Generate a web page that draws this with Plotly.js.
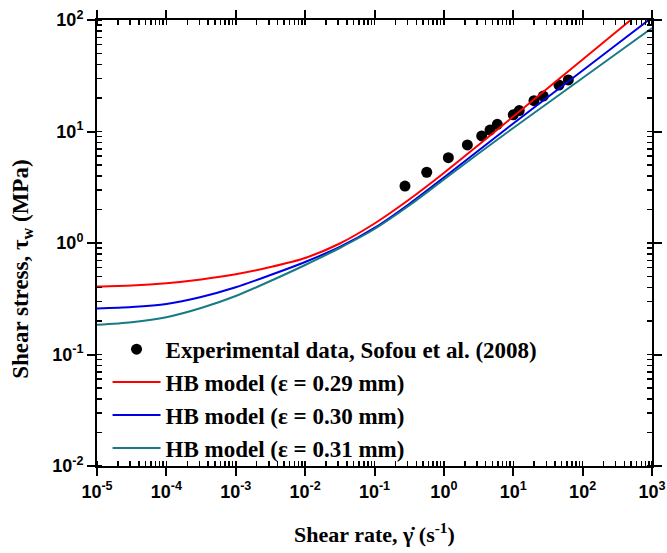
<!DOCTYPE html>
<html>
<head>
<meta charset="utf-8">
<script src="https://cdn.plot.ly/plotly-3.0.1.min.js"></script>
<style>html,body{margin:0;padding:0;background:#fff;}#chart{width:667px;height:553px;}</style>
</head>
<body>
<div id="chart"></div>
<script>
// Experimental data (Sofou et al., 2008)
const expShearRate = [0.275, 0.566, 1.16, 2.18, 3.51, 4.62, 5.89, 10.0, 12.2, 19.9, 27.1, 45.6, 62.2];
const expShearStress = [3.24, 4.31, 5.82, 7.57, 9.12, 10.3, 11.6, 14.1, 15.4, 18.9, 20.8, 26.1, 29.0];

// HB model curves (half-decade steps)
const modelShearRate = [1e-5, 3.16e-5, 1e-4, 3.16e-4, 1e-3, 3.16e-3, 1e-2, 3.16e-2, 0.1, 0.316, 1, 3.16, 10, 31.6, 100, 316, 1000];
const hb029 = [0.407, 0.416, 0.436, 0.471, 0.524, 0.609, 0.734, 0.990, 1.496, 2.455, 4.245, 7.565, 13.63, 24.55, 44.23, 79.67, 143.6];
const hb030 = [0.259, 0.267, 0.284, 0.328, 0.401, 0.516, 0.676, 0.921, 1.365, 2.239, 3.868, 6.755, 11.80, 20.39, 35.25, 60.93, 105.3];
const hb031 = [0.185, 0.195, 0.216, 0.261, 0.335, 0.456, 0.635, 0.902, 1.335, 2.169, 3.711, 6.349, 10.75, 18.02, 30.19, 50.58, 84.79];

const xTickVals = [1e-5, 1e-4, 1e-3, 1e-2, 1e-1, 1, 10, 100, 1000];
const xTickText = ['10<sup>-5</sup>', '10<sup>-4</sup>', '10<sup>-3</sup>', '10<sup>-2</sup>', '10<sup>-1</sup>', '10<sup>0</sup>', '10<sup>1</sup>', '10<sup>2</sup>', '10<sup>3</sup>'];
const yTickVals = [1e-2, 1e-1, 1, 10, 100];
const yTickText = ['10<sup>-2</sup>', '10<sup>-1</sup>', '10<sup>0</sup>', '10<sup>1</sup>', '10<sup>2</sup>'];

const serif = 'Liberation Serif, Times New Roman, serif';
const sans = 'Liberation Sans, Arial, sans-serif';

const traces = [
  {x: expShearRate, y: expShearStress, mode: 'markers', type: 'scatter',
   name: 'Experimental data, Sofou et al. (2008)',
   marker: {color: 'black', size: 11, symbol: 'circle'}},
  {x: modelShearRate, y: hb029, mode: 'lines', type: 'scatter', name: 'HB model (ε = 0.29 mm)',
   line: {color: '#ff0000', width: 2, shape: 'spline', smoothing: 0.8}},
  {x: modelShearRate, y: hb030, mode: 'lines', type: 'scatter', name: 'HB model (ε = 0.30 mm)',
   line: {color: '#0000e6', width: 2, shape: 'spline', smoothing: 0.8}},
  {x: modelShearRate, y: hb031, mode: 'lines', type: 'scatter', name: 'HB model (ε = 0.31 mm)',
   line: {color: '#177a85', width: 2, shape: 'spline', smoothing: 0.8}}
];

const axisCommon = {
  type: 'log', showgrid: false, zeroline: false,
  showline: true, linecolor: 'black', linewidth: 2, mirror: 'allticks',
  ticks: 'outside', ticklen: 8, tickwidth: 2, tickcolor: 'black',
  minor: {ticks: 'inside', ticklen: 5, tickwidth: 1.5, tickcolor: 'black', dtick: 'D1', showgrid: false},
  tickfont: {family: sans, size: 18, color: 'black', weight: 'bold'}
};

const layout = {
  width: 667, height: 553,
  margin: {l: 97, r: 15, t: 20, b: 87},
  paper_bgcolor: 'white', plot_bgcolor: 'white',
  showlegend: true,
  legend: {x: 0.019, y: 0.31, xanchor: 'left', yanchor: 'top', bgcolor: 'rgba(0,0,0,0)',
           font: {family: serif, size: 23, color: 'black', weight: 'bold'}, itemwidth: 48, tracegroupgap: 0},
  xaxis: Object.assign({}, axisCommon, {
    range: [-5, 3], tickvals: xTickVals, ticktext: xTickText,
    title: {text: 'Shear rate, γ̇ (s<sup>-1</sup>)', standoff: 26,
            font: {family: serif, size: 22, color: 'black', weight: 'bold'}}
  }),
  yaxis: Object.assign({}, axisCommon, {
    range: [-2, 2], tickvals: yTickVals, ticktext: yTickText
  }),
  annotations: [
    {text: 'Shear stress, τ<sub>w</sub> (MPa)', xref: 'paper', yref: 'paper',
     x: -0.135, y: 0.44, xanchor: 'center', yanchor: 'middle', textangle: -90, showarrow: false,
     font: {family: serif, size: 23, color: 'black', weight: 'bold'}}
  ]
};

Plotly.newPlot('chart', traces, layout, {displayModeBar: false, staticPlot: true});
</script>
</body>
</html>
